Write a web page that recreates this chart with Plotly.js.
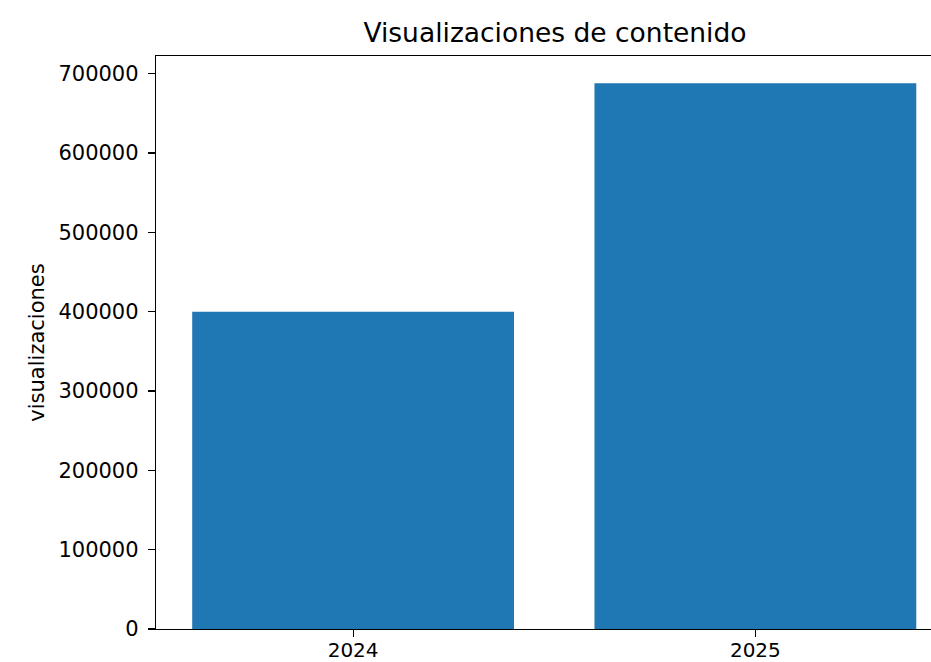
<!DOCTYPE html>
<html>
<head>
<meta charset="utf-8">
<script src="https://cdn.plot.ly/plotly-3.0.1.min.js"></script>
<style>html,body{margin:0;padding:0;background:#fff;overflow:hidden;}</style>
</head>
<body>
<div id="chart" style="width:931px;height:662px;"></div>
<script>
const years = ["2024", "2025"];
const views = [400000, 688000];
const yTicks = [0, 100000, 200000, 300000, 400000, 500000, 600000, 700000];

const font = "DejaVu Sans, sans-serif";
const trace = {
  type: "bar",
  x: [0, 1],
  y: views,
  width: 0.8,
  marker: {color: "#1f77b4", line: {width: 0}},
  hoverinfo: "none"
};
const layout = {
  width: 931, height: 662,
  margin: {l: 156, r: 0, t: 56, b: 33, pad: 0},
  paper_bgcolor: "#ffffff", plot_bgcolor: "#ffffff",
  showlegend: false,
  font: {family: font, color: "#000000", size: 21},
  title: {
    text: "Visualizaciones de contenido",
    font: {family: font, size: 26.5, color: "#000000"},
    xref: "paper", x: 0.5148, xanchor: "center",
    yref: "paper", y: 1, yanchor: "bottom",
    pad: {b: 14}
  },
  xaxis: {
    range: [-0.49, 1.4366],
    tickvals: [0, 1], ticktext: years,
    showgrid: false, zeroline: false,
    showline: true, linecolor: "#000000", linewidth: 1.2, mirror: true,
    ticks: "outside", ticklen: 7, tickwidth: 1.2, tickcolor: "#000000",
    tickfont: {family: font, size: 20, color: "#000000"},
    ticklabelstandoff: -4,
    automargin: false
  },
  yaxis: {
    range: [0, 722400],
    tickvals: yTicks, tickformat: "d",
    showgrid: false, zeroline: false,
    showline: true, linecolor: "#000000", linewidth: 1.2, mirror: false,
    ticks: "outside", ticklen: 7, tickwidth: 1.2, tickcolor: "#000000",
    tickfont: {family: font, size: 21, color: "#000000"},
    ticklabelstandoff: 5,
    title: {text: "visualizaciones", font: {family: font, size: 21, color: "#000000"}, standoff: 8},
    automargin: false
  }
};
Plotly.newPlot("chart", [trace], layout, {displayModeBar: false, staticPlot: true});
</script>
</body>
</html>
